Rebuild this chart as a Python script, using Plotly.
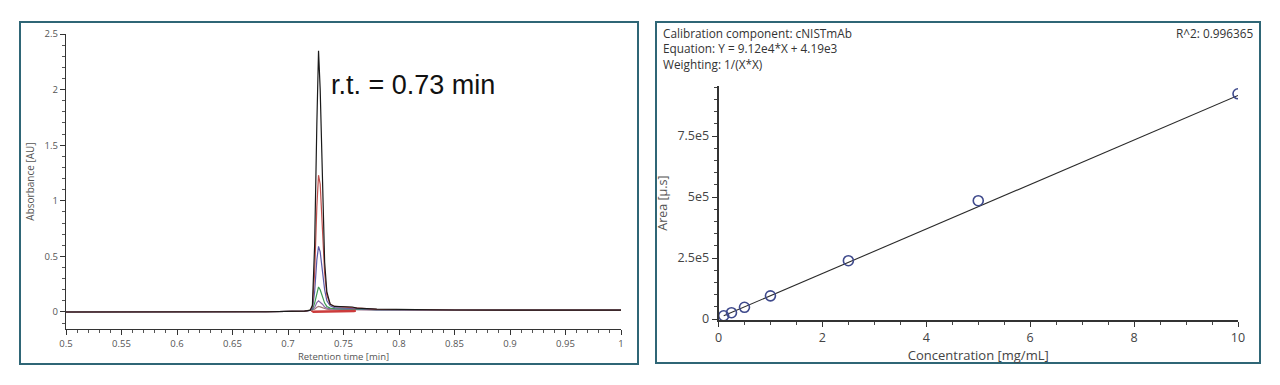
import plotly.graph_objects as go

W, H = 1280, 385

# ---------------- Chromatogram data ----------------
rt_min = [0.50, 0.60, 0.68, 0.715, 0.720, 0.722, 0.724, 0.726, 0.7275, 0.729,
          0.731, 0.733, 0.735, 0.738, 0.742, 0.750, 0.758, 0.762, 0.780, 0.850, 1.00]

abs_grey   = [0.0, 0.0, 0.002, 0.008, 0.015, 0.016, 0.025, 0.042, 0.050, 0.046,
              0.038, 0.030, 0.025, 0.022, 0.020, 0.020, 0.020, 0.019, 0.018, 0.017, 0.016]
abs_purple = [0.0, 0.0, 0.002, 0.008, 0.015, 0.018, 0.040, 0.085, 0.100, 0.090,
              0.070, 0.045, 0.035, 0.028, 0.025, 0.024, 0.023, 0.022, 0.019, 0.017, 0.016]
abs_green  = [0.0, 0.0, 0.002, 0.008, 0.015, 0.020, 0.080, 0.180, 0.225, 0.200,
              0.140, 0.080, 0.050, 0.035, 0.030, 0.028, 0.027, 0.025, 0.020, 0.018, 0.016]
abs_blue   = [0.0, 0.0, 0.002, 0.008, 0.015, 0.030, 0.180, 0.470, 0.590, 0.540,
              0.380, 0.200, 0.100, 0.055, 0.040, 0.035, 0.034, 0.030, 0.022, 0.018, 0.016]
abs_red    = [0.0, 0.0, 0.002, 0.008, 0.015, 0.050, 0.350, 0.950, 1.230, 1.150,
              0.750, 0.350, 0.150, 0.070, 0.050, 0.045, 0.042, 0.033, 0.024, 0.018, 0.016]
abs_black  = [0.0, 0.0, 0.002, 0.008, 0.015, 0.060, 0.600, 1.700, 2.350, 2.000,
              1.100, 0.450, 0.180, 0.070, 0.050, 0.048, 0.045, 0.035, 0.025, 0.018, 0.016]

chrom_series = [
    ("grey", abs_grey, "#a07878"),
    ("purple", abs_purple, "#8a6aa8"),
    ("green", abs_green, "#3f9a55"),
    ("blue", abs_blue, "#5a5aa8"),
    ("red", abs_red, "#c0504d"),
    ("black", abs_black, "#1a1a1a"),
]

integ_x = [0.722, 0.722, 0.722, 0.760, 0.760, 0.760]
integ_y = [0.012, 0.0, 0.003, 0.008, 0.0, 0.014]

rt_label = "r.t. = 0.73 min"
x_ticks_left = [0.5, 0.55, 0.6, 0.65, 0.7, 0.75, 0.8, 0.85, 0.9, 0.95, 1.0]
x_tick_text_left = ["0.5", "0.55", "0.6", "0.65", "0.7", "0.75", "0.8", "0.85", "0.9", "0.95", "1"]
y_ticks_left = [0, 0.5, 1, 1.5, 2, 2.5]
y_tick_text_left = ["0", "0.5", "1", "1.5", "2", "2.5"]

# ---------------- Calibration data ----------------
conc = [0.1, 0.25, 0.5, 1.0, 2.5, 5.0, 10.0]
area = [1.35e4, 2.6e4, 4.8e4, 9.5e4, 2.39e5, 4.85e5, 9.23e5]
slope = 9.12e4
intercept = 4.19e3
fit_x = [0.1, 10.0]
fit_y = [slope * x + intercept for x in fit_x]

y_ticks_right = [0, 2.5e5, 5e5, 7.5e5]
y_tick_text_right = ["0", "2.5e5", "5e5", "7.5e5"]
x_ticks_right = [0, 2, 4, 6, 8, 10]

info_lines = ["Calibration component: cNISTmAb",
              "Equation: Y = 9.12e4*X + 4.19e3",
              "Weighting: 1/(X*X)"]
r2_text = "R^2: 0.996365"

def px(x):
    return x / W

def py(y):
    return 1 - y / H

fig = go.Figure()

for name, vals, col in chrom_series:
    fig.add_trace(go.Scatter(x=rt_min, y=vals, mode="lines", name=name,
                             line=dict(color=col, width=1.2),
                             xaxis="x", yaxis="y", showlegend=False))

fig.add_trace(go.Scatter(x=integ_x, y=integ_y, mode="lines",
                         line=dict(color="#cc3b3b", width=2.5),
                         xaxis="x", yaxis="y", showlegend=False))

fig.add_trace(go.Scatter(x=fit_x, y=fit_y, mode="lines",
                         line=dict(color="#2a2a2a", width=1.1),
                         xaxis="x2", yaxis="y2", showlegend=False))
fig.add_trace(go.Scatter(x=conc, y=area, mode="markers",
                         marker=dict(symbol="circle-open", size=10,
                                     color="#3f4a8c", line=dict(width=1.6, color="#3f4a8c")),
                         xaxis="x2", yaxis="y2", showlegend=False))

tick_font_l = dict(family="Open Sans, DejaVu Sans", size=9.5, color="#555555")
tick_font_r = dict(family="Open Sans, DejaVu Sans", size=12.5, color="#444444")

fig.update_layout(
    width=W, height=H,
    margin=dict(l=0, r=0, t=0, b=0, autoexpand=False),
    paper_bgcolor="white", plot_bgcolor="white",
    xaxis=dict(domain=[px(66), px(621)], range=[0.5, 1.0], anchor="y", automargin=False,
               tickmode="array", tickvals=x_ticks_left, ticktext=x_tick_text_left,
               ticks="outside", ticklen=5, tickcolor="#333", tickwidth=1,
               minor=dict(dtick=0.01, ticks="outside", ticklen=3, tickcolor="#555"),
               showline=True, linecolor="#333", linewidth=1.4,
               showgrid=False, zeroline=False, tickfont=tick_font_l,
               title=dict(text="Retention time [min]", standoff=4,
                          font=dict(family="Open Sans, DejaVu Sans", size=9.5, color="#555"))),
    yaxis=dict(domain=[py(329), py(34)], range=[-0.153, 2.5], anchor="x", automargin=False,
               tickmode="array", tickvals=y_ticks_left, ticktext=y_tick_text_left,
               ticks="outside", ticklen=5, tickcolor="#333", tickwidth=1,
               minor=dict(dtick=0.1, ticks="outside", ticklen=3, tickcolor="#555"),
               showline=True, linecolor="#333", linewidth=1.4,
               showgrid=False, zeroline=False, tickfont=tick_font_l,
               title=dict(text="Absorbance [AU]", standoff=8,
                          font=dict(family="Open Sans, DejaVu Sans", size=10, color="#555"))),
    xaxis2=dict(domain=[px(718.5), px(1238)], range=[0, 10], anchor="y2", automargin=False,
                tickmode="array", tickvals=x_ticks_right,
                ticks="outside", ticklen=5, tickcolor="#333", tickwidth=1,
                minor=dict(dtick=0.5, ticks="outside", ticklen=3, tickcolor="#444"),
                showline=True, linecolor="#333", linewidth=1.6,
                showgrid=False, zeroline=False, tickfont=tick_font_r,
                title=dict(text="Concentration [mg/mL]", standoff=3,
                           font=dict(family="Open Sans, DejaVu Sans", size=13, color="#444"))),
    yaxis2=dict(domain=[py(320), py(86)], range=[-4000, 9.55e5], anchor="x2", automargin=False,
                tickmode="array", tickvals=y_ticks_right, ticktext=y_tick_text_right,
                ticks="outside", ticklen=5, tickcolor="#333", tickwidth=1,
                minor=dict(dtick=5e4, ticks="outside", ticklen=3, tickcolor="#444"),
                showline=True, linecolor="#333", linewidth=1.6,
                showgrid=False, zeroline=False, tickfont=tick_font_r,
                title=dict(text="Area [µ.s]", standoff=7,
                           font=dict(family="Open Sans, DejaVu Sans", size=12.5, color="#555"))),
)

border_col = "#2f6676"
fig.add_shape(type="rect", xref="paper", yref="paper",
              x0=px(20), x1=px(638), y0=py(364), y1=py(22),
              line=dict(color=border_col, width=2))
fig.add_shape(type="rect", xref="paper", yref="paper",
              x0=px(656), x1=px(1260), y0=py(363), y1=py(22),
              line=dict(color=border_col, width=2))

fig.add_annotation(x=0.7365, y=2.04, xref="x", yref="y", text=rt_label,
                   showarrow=False, xanchor="left", yanchor="middle",
                   font=dict(family="Liberation Sans, Arial", size=27, color="#111"))

info_font = dict(family="Open Sans, DejaVu Sans", size=11.8, color="#333")
fig.add_annotation(x=px(662), y=py(24), xref="paper", yref="paper",
                   text="<br>".join(info_lines), showarrow=False, align="left",
                   xanchor="left", yanchor="top", borderpad=0, font=info_font)
fig.add_annotation(x=px(1255), y=py(24), xref="paper", yref="paper",
                   text=r2_text, showarrow=False, xanchor="right", yanchor="top",
                   borderpad=0, font=info_font)

fig.write_html("out.html")
